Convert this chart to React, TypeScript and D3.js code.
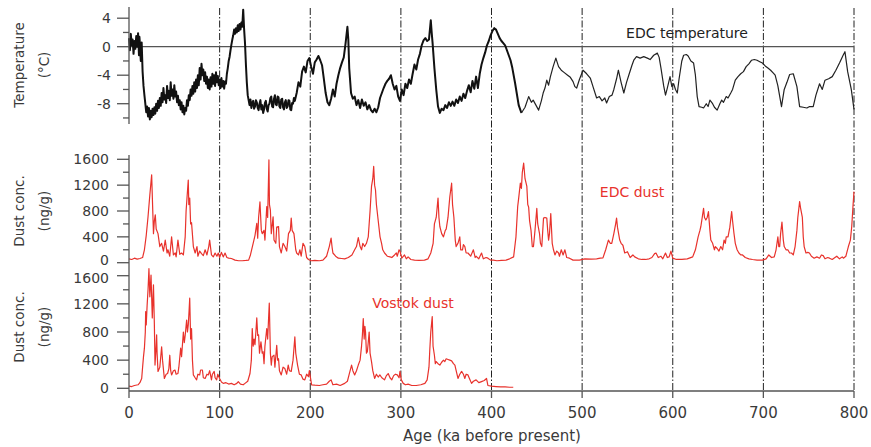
import React from "react";
import * as d3 from "d3";

// ---------- DATA ----------
const ageTicks = [0, 100, 200, 300, 400, 500, 600, 700, 800];
const tempTicks = [4, 0, -4, -8];
const tempMinorTicks = [2, -2, -6, -10];
const dustTicks = [0, 400, 800, 1200, 1600];
const dustMinorTicks = [200, 600, 1000, 1400];

// EDC temperature anomaly [age ka, °C]
const edcTemperature: [number, number][] = [
  [0, 1.2], [1, -0.5], [2, 1.8], [3, 0.2], [4, 1.0], [5, -1.0], [6, 0.8], [7, -0.3], [8, 1.5], [9, 0.0],
  [10, 1.9], [11, -1.2], [11.5, 1.4], [12, 0.5], [13, -2.0], [14, 0.6], [15, -3.5], [16, -5.5], [17, -6.8], [18, -8.0],
  [19, -9.2], [20, -8.4], [21, -9.8], [22, -8.6], [23, -10.2], [24, -9.0], [25, -9.9], [26, -8.7], [27, -9.6], [28, -8.5],
  [29, -9.4], [30, -8.0], [31, -9.0], [32, -7.6], [33, -8.6], [34, -7.2], [35, -8.3], [36, -6.5], [37, -7.8], [38, -5.8],
  [39, -7.4], [40, -6.8], [41, -7.9], [42, -5.5], [43, -7.2], [44, -6.2], [45, -7.5], [46, -5.0], [47, -6.9], [48, -6.0],
  [49, -7.3], [50, -5.4], [51, -7.0], [52, -6.3], [53, -7.8], [54, -6.9], [55, -8.2], [56, -7.5], [57, -8.8], [58, -7.8],
  [59, -9.2], [60, -8.3], [61, -9.5], [62, -8.6], [63, -9.0], [64, -7.5], [65, -8.3], [66, -6.8], [67, -7.5], [68, -6.0],
  [69, -6.9], [70, -5.5], [71, -6.6], [72, -5.0], [73, -6.3], [74, -4.6], [75, -5.8], [76, -4.0], [77, -5.4], [78, -3.0],
  [79, -4.6], [80, -2.4], [81, -4.0], [82, -3.2], [83, -4.8], [84, -3.6], [85, -5.2], [86, -4.2], [87, -5.8], [88, -4.6],
  [89, -6.0], [90, -4.3], [91, -5.6], [92, -3.8], [93, -5.2], [94, -4.0], [95, -5.5], [96, -3.6], [97, -5.0], [98, -4.1],
  [99, -5.4], [100, -4.6], [101, -5.8], [102, -4.4], [103, -5.6], [104, -4.8], [105, -5.9], [106, -4.9], [107, -5.2], [108, -3.8],
  [109, -3.0], [110, -2.0], [111, -1.4], [112, -0.5], [113, 0.3], [114, 1.0], [115, 1.6], [116, 2.4], [117, 1.8], [118, 2.6],
  [119, 2.0], [120, 3.0], [121, 2.2], [122, 3.2], [123, 2.4], [124, 3.4], [125, 2.8], [126, 5.2], [127, 2.5], [128, 0.5],
  [129, -2.5], [130, -5.0], [131, -6.8], [132, -7.5], [133, -8.2], [134, -7.4],
  [135, -8.6], [136, -7.9], [137, -7.6], [138, -8.7], [139, -8.4], [140, -7.5], [141, -7.8], [142, -8.6], [143, -8.9], [144, -8.0],
  [145, -7.5], [146, -8.8], [147, -8.2], [148, -9.3], [149, -8.8], [150, -7.9], [151, -7.6], [152, -8.7], [153, -9.1], [154, -8.2],
  [155, -8.0], [156, -7.2], [157, -7.0], [158, -8.4], [159, -8.5], [160, -7.3], [161, -6.8], [162, -8.1], [163, -8.2], [164, -7.0],
  [165, -7.1], [166, -8.4], [167, -8.6], [168, -7.4], [169, -7.3], [170, -8.5], [171, -8.8], [172, -7.8], [173, -7.5], [174, -8.6],
  [175, -8.4], [176, -7.5], [177, -7.6], [178, -8.8], [179, -8.9], [180, -7.9], [181, -8.0], [182, -7.2], [183, -7.6], [185, -6.5],
  [187, -5.0], [189, -5.6], [191, -3.5], [193, -2.8], [195, -3.6], [197, -2.0], [199, -1.6], [201, -2.8], [203, -3.8], [205, -2.2],
  [207, -1.8], [209, -1.3], [211, -1.9], [213, -2.6], [215, -4.5], [217, -6.5], [219, -7.8], [221, -8.2], [223, -7.3], [225, -6.0],
  [227, -7.0], [229, -5.2], [231, -4.0], [233, -3.0], [235, -2.2], [237, -1.5], [239, 0.5], [241, 2.8], [242, 1.0], [243, -3.0],
  [245, -6.5], [247, -7.3], [249, -7.0], [251, -8.2], [253, -7.5], [255, -8.6], [257, -7.4], [259, -8.3], [261, -7.8], [263, -8.8],
  [265, -8.2], [267, -8.9], [269, -9.2], [271, -8.7], [273, -9.2], [275, -8.5], [277, -7.2], [279, -6.5], [281, -5.8], [283, -5.2],
  [285, -4.8], [287, -4.5], [289, -4.0], [291, -5.2], [293, -6.0], [295, -5.5], [297, -7.0], [299, -7.6], [301, -6.0], [303, -6.8],
  [305, -5.2], [307, -5.8], [309, -4.6], [311, -5.2], [313, -3.8], [315, -2.5], [317, -3.2], [319, -1.8], [321, -1.0], [323, 0.2],
  [325, 0.9], [327, 1.2], [329, 0.8], [331, 1.0], [333, 3.7], [334, 2.0], [335, 0.5], [337, -3.0], [339, -6.0], [341, -8.4],
  [343, -9.3], [345, -8.7], [347, -8.9], [349, -8.2], [351, -8.6], [353, -7.8], [355, -8.3], [357, -7.7], [359, -8.3], [361, -7.4],
  [363, -7.9], [365, -7.0], [367, -7.6], [369, -6.6], [371, -7.2], [373, -6.2], [375, -5.4], [377, -6.4], [379, -4.8], [381, -5.9],
  [383, -4.2], [385, -5.8], [387, -3.8], [389, -2.5], [391, -1.6], [393, -0.8], [395, 0.2], [397, 0.8], [399, 1.6], [401, 2.2],
  [403, 2.6], [405, 2.4], [407, 1.8], [409, 1.2], [411, 0.8], [413, 0.5], [415, 0.2], [417, -0.5], [419, -1.2], [421, -1.9],
  [423, -3.0], [426, -5.1], [430, -8.2], [433, -9.3],
  [437, -8.5], [441, -7.0], [444, -7.8], [446, -7.5], [449, -8.2], [452, -8.9], [455, -7.6], [457, -6.5], [459, -5.8], [461, -4.7],
  [463, -5.4], [465, -4.2], [468, -2.8], [471, -1.6], [474, -2.8], [477, -3.3], [480, -3.6], [484, -4.0], [487, -4.3], [490, -4.9],
  [492, -5.6], [494, -5.8], [497, -4.6], [501, -3.3], [505, -3.8], [509, -4.4], [512, -5.6], [516, -7.2], [519, -7.0], [522, -7.6],
  [525, -7.2], [527, -7.9], [530, -7.0], [533, -6.8], [535, -6.0], [538, -4.5], [540, -3.3], [543, -5.0], [546, -6.5], [549, -5.0],
  [552, -3.8], [555, -2.6], [557, -1.9], [560, -1.4], [564, -1.6], [568, -1.4], [572, -1.6], [575, -1.8], [579, -1.2], [583, -0.9],
  [585, -1.5], [587, -3.0], [590, -5.5], [592, -6.8], [594, -5.8], [597, -4.2], [599, -5.6], [601, -5.2], [603, -6.0], [605, -6.5],
  [607, -4.5], [610, -2.0], [612, -1.2], [615, -1.1], [617, -1.3], [620, -2.0], [623, -2.3], [625, -4.0], [627, -7.0], [629, -8.4],
  [632, -8.5], [634, -8.6], [637, -8.0], [639, -8.4], [641, -7.5], [644, -8.0], [646, -8.5], [649, -8.9], [652, -8.0], [654, -7.5],
  [656, -7.8], [659, -7.0], [661, -7.2], [664, -6.5], [666, -6.0], [669, -4.7], [672, -4.2], [675, -3.8], [678, -3.5], [681, -2.8],
  [684, -2.4], [687, -1.9], [690, -1.8], [693, -1.9], [696, -2.1], [699, -2.3], [702, -2.7], [705, -3.0], [708, -3.3], [711, -3.7],
  [713, -4.0], [716, -5.5], [720, -8.4], [723, -6.0], [726, -5.0], [729, -3.9], [733, -3.8], [737, -5.6], [740, -8.4], [744, -8.5],
  [748, -8.6], [751, -8.4], [755, -8.4], [758, -6.8], [762, -5.2], [765, -6.0], [768, -4.7], [772, -4.5], [776, -4.2], [780, -3.3],
  [784, -2.3], [788, -1.2], [790, -0.7], [793, -3.5], [797, -6.0], [800, -8.8],
];

// EDC dust concentration [age ka, ng/g]
const edcDust: [number, number][] = [
  [0, 60], [3, 50], [6, 70], [9, 55], [12, 65], [15, 80], [17, 200], [19, 420], [21, 710], [23, 1050],
  [25, 1360], [26, 900], [27, 450], [28, 650], [29, 740], [30, 520], [32, 450], [34, 250], [36, 300], [38, 180],
  [40, 350], [42, 150], [43, 200], [45, 100], [47, 400], [49, 120], [51, 150], [52, 90], [54, 350], [56, 130],
  [58, 150], [60, 120], [62, 400], [63, 800], [64, 1000], [65.4, 1280], [66, 900], [67, 1000], [68, 600], [69, 620],
  [71, 250], [73, 150], [75, 250], [76, 100], [78, 180], [80, 140], [82, 110], [84, 200], [86, 120], [88, 250],
  [89, 350], [91, 120], [93, 90], [95, 150], [97, 100], [98.5, 150], [100, 80], [102, 160], [104, 90], [106, 150],
  [108, 80], [110, 70], [113, 65], [117, 40], [121, 30], [125, 30], [129, 35], [132, 40], [134, 120], [137, 300],
  [139, 420], [141, 610], [142, 380], [143, 700], [144.5, 940], [146, 500], [147, 450], [149, 500], [150, 350], [152, 870],
  [153, 700], [154.4, 1590], [155, 900], [156, 815], [157, 450], [159, 710], [160, 350], [162, 300], [163, 550], [165, 560],
  [166, 250], [168, 150], [170, 300], [172, 250], [174, 180], [176, 450], [178, 500], [179, 690], [180, 500], [182, 450],
  [184, 200], [185, 150], [187, 120], [188.6, 200], [190, 100], [192, 300], [194, 250], [196, 80], [198, 50], [201, 30],
  [205, 35], [210, 30], [214, 40], [218, 100], [221, 250], [223, 380], [224, 250], [225, 150], [228, 100], [231, 70],
  [234.6, 65], [238, 60], [242, 80], [246, 120], [249, 200], [251, 250], [253, 390], [255, 250], [256.6, 200], [258, 300],
  [260, 250], [262, 300], [264, 400], [266, 800], [267.6, 1180], [269, 1300], [270, 1490], [271, 1200], [272, 1125], [273, 900],
  [275, 650], [277, 400], [278.7, 300], [280, 200], [282, 150], [285, 100], [288, 90], [290, 80], [293, 120], [295, 150],
  [296, 100], [298, 200], [299, 180], [301, 70], [304, 120], [306, 60], [308, 90], [311, 50], [315, 40], [320, 35],
  [326, 40], [330, 60], [333, 150], [335.6, 300], [337, 600], [339, 700], [341, 1000], [342, 700], [343, 560], [345, 450],
  [347, 400], [349, 500], [350, 520], [352, 700], [354, 1020], [356, 1230], [357, 900], [358.5, 700], [360, 350], [361, 250],
  [363, 300], [365, 400], [366, 200], [368, 200], [369, 280], [370.6, 250], [372, 150], [374, 150], [377, 100], [380, 200],
  [382, 80], [383, 100], [386, 60], [389, 150], [391, 60], [394, 80], [396, 70], [399, 40], [402, 40], [406, 30],
  [411, 35], [416, 40], [420, 60], [424.4, 90], [427, 400], [428.9, 870], [430, 1000], [431.8, 1230], [433, 1150], [434, 1400],
  [435.5, 1540], [437, 1300], [439, 1180], [440, 900], [441, 860], [442, 650], [443.6, 500], [445, 250], [446.3, 250], [448, 500],
  [450, 840], [451, 600], [453, 450], [454, 300], [455.5, 250], [457.4, 690], [459, 700], [461, 690], [462, 500], [463, 350],
  [464, 450], [465.4, 760], [467, 300], [468.4, 200], [470, 120], [472, 180], [474, 150], [475, 100], [477, 200], [479, 120],
  [481, 200], [483, 80], [486, 70], [490, 40], [497, 40], [503, 60], [510, 55], [516, 60], [520, 70], [523, 75],
  [526, 200], [529, 350], [531, 300], [532.7, 300], [535, 450], [537, 600], [538, 690], [539, 550], [541.5, 350], [543, 300],
  [545, 270], [547, 150], [550, 170], [553, 80], [556, 120], [558, 90], [562, 60], [566, 50], [570, 50], [574, 60],
  [577, 80], [580, 140], [581.5, 150], [584, 80], [587, 100], [589, 60], [592, 150], [594, 80], [596, 90], [598, 180],
  [600, 70], [604, 50], [610, 50], [616, 60], [622, 90], [625, 200], [628, 400], [630, 500], [631, 560], [632, 650],
  [634, 840], [635, 700], [636.5, 660], [638, 700], [639.4, 790], [641, 500], [642, 350], [644, 300], [646, 200], [647, 250],
  [649, 220], [651, 180], [653, 250], [655, 200], [656.6, 350], [658, 300], [659, 400], [661, 400], [663, 550], [665, 790],
  [666, 650], [667.5, 460], [669, 300], [671, 200], [673, 150], [675, 120], [677, 120], [680, 80], [684, 60], [688, 50],
  [693, 40], [699, 40], [703, 60], [706, 120], [709, 80], [712, 90], [714, 200], [716, 400], [717, 250], [718, 250],
  [719, 450], [720.5, 630], [722, 350], [723, 250], [725, 200], [727, 200], [729, 150], [731, 150], [733, 120], [735, 250],
  [737, 500], [738, 700], [740, 945], [741, 850], [743, 700], [744, 400], [745, 250], [747, 150], [749, 160], [750.8, 150],
  [753, 100], [756, 70], [759, 90], [762, 70], [764, 120], [766, 110], [768, 60], [771, 80], [773, 70], [776, 50],
  [779, 80], [781, 100], [784, 60], [787, 90], [788.3, 70], [791, 100], [793.8, 250], [796, 350], [797.5, 560], [799, 900],
  [800, 1100],
];

// Vostok dust concentration [age ka, ng/g]
const vostokDust: [number, number][] = [
  [0, 30], [3, 25], [6, 40], [10, 50], [12, 80], [14, 140], [15, 300], [16, 450], [17, 570], [18, 800],
  [18.4, 1090], [19, 900], [20, 1180], [21, 1400], [22, 1700], [23, 1300], [24.3, 1610], [25, 1300], [25.7, 1000], [26.5, 1300],
  [27, 1470], [28, 900], [28.7, 330], [29.5, 500], [30.5, 760], [31, 500], [32, 240], [34, 300], [36, 590], [37, 400],
  [39, 140], [41, 200], [42.6, 210], [44, 280], [45, 470], [46, 250], [47, 190], [49, 250], [50.7, 260], [52, 200],
  [54, 210], [55, 300], [57, 570], [58, 450], [60, 800], [61, 650], [62, 750], [63.6, 970], [64.5, 800], [65.4, 900],
  [66.3, 1100], [67, 1280], [68, 700], [69, 850], [70, 400], [71, 190], [73, 150], [74.6, 120], [76, 200], [78, 190],
  [79, 260], [81, 260], [82, 150], [84, 140], [86, 200], [87.5, 190], [89, 250], [91, 120], [92, 200], [94, 240],
  [95, 150], [96.7, 120], [98, 200], [100, 140], [102, 90], [104, 70], [107, 80], [110, 60], [113, 70], [116, 50],
  [119, 70], [120.6, 95], [123, 60], [126, 50], [128, 70], [131, 100], [133.5, 210], [135, 400], [136, 850], [137, 600],
  [138, 700], [139, 620], [140, 800], [141, 1000], [142, 750], [143, 760], [144, 500], [145.6, 660], [147, 500], [148, 520],
  [149, 350], [150, 600], [152, 850], [153, 700], [154.8, 1210], [155.5, 800], [156, 500], [157, 330], [158, 450], [160, 470],
  [161, 300], [163, 610], [164, 400], [165, 420], [166, 250], [168, 190], [170, 300], [172, 280], [174, 200], [175.7, 330],
  [177, 250], [179, 240], [181, 400], [183, 730], [184, 500], [186, 330], [188, 200], [190, 190], [192, 130], [194, 120],
  [196, 200], [198, 165], [199, 250], [201.5, 50], [205, 45], [210, 40], [214, 50], [218, 60], [221, 100], [223, 120],
  [225, 50], [229, 60], [233, 40], [238, 70], [241, 100], [243, 200], [245.6, 330], [247, 250], [249, 190], [251, 250],
  [253, 330], [255, 400], [256.6, 600], [257.5, 750], [258.5, 990], [259.5, 700], [260.3, 880], [261, 800], [262, 500], [263, 520],
  [264, 650], [265, 800], [266, 500], [267.6, 380], [269, 250], [271, 140], [273, 200], [275, 160], [276.8, 190], [279, 150],
  [282, 120], [284, 180], [286, 210], [288, 150], [290, 120], [292, 180], [294, 200], [296, 190], [298, 150], [299, 240],
  [300.5, 120], [302.6, 70], [305, 50], [308, 60], [312, 40], [317, 40], [322, 50], [326.5, 70], [329, 120], [331, 300],
  [332, 570], [333, 800], [334.6, 1020], [335.5, 600], [337, 470], [338, 350], [339, 380], [341, 350], [343, 330], [345, 370],
  [347, 400], [348.5, 380], [350, 420], [352, 410], [354, 400], [356, 390], [358, 350], [359.6, 330], [361, 250], [363, 140],
  [365, 200], [367, 240], [369, 200], [370.6, 140], [372, 200], [374, 190], [376, 130], [378, 70], [380, 100], [383, 120],
  [386, 80], [389, 95], [392, 110], [394.5, 140], [396, 40], [400, 30], [405, 25], [410, 20], [415, 20], [420, 15],
  [424, 15],
];

// ---------- LAYOUT ----------
const W = 871;
const H = 447;
const X0 = 129;
const X1 = 854;
const AXIS_Y = 391;
const DENSE_END = 433; // high-resolution section of the temperature record

export default function App() {
  const x = d3.scaleLinear().domain([0, 800]).range([X0, X1]);
  const yT = d3.scaleLinear().domain([0, 4]).range([46.7, 18.2]);
  const yD = d3.scaleLinear().domain([0, 1600]).range([262.7, 159.3]);
  const yV = d3.scaleLinear().domain([0, 1600]).range([388.3, 275.7]);

  const lineT = d3.line<[number, number]>().x((d) => x(d[0])).y((d) => yT(d[1]));
  const lineD = d3.line<[number, number]>().x((d) => x(d[0])).y((d) => yD(d[1]));
  const lineV = d3.line<[number, number]>().x((d) => x(d[0])).y((d) => yV(d[1]));

  const tempDense = edcTemperature.filter((d) => d[0] <= DENSE_END);
  const tempSparse = edcTemperature.filter((d) => d[0] >= DENSE_END);

  const axisColor = "#555";
  const textColor = "#3a3a3a";
  const red = "#e8322c";
  const font = "'DejaVu Sans', Verdana, sans-serif";

  const yAxis = (
    scale: d3.ScaleLinear<number, number>,
    major: number[],
    minor: number[],
    top: number,
    bottom: number,
    labelX: number,
    fmt: (v: number) => string,
    nudge: (v: number) => number
  ) => (
    <g>
      <line x1={X0} x2={X0} y1={top} y2={bottom} stroke={axisColor} strokeWidth={1.3} />
      {major.map((v) => (
        <g key={"M" + v}>
          <line x1={X0 - 12} x2={X0} y1={scale(v)} y2={scale(v)} stroke={axisColor} strokeWidth={1.3} />
          <text
            x={labelX}
            y={scale(v) + nudge(v)}
            dy="0.36em"
            textAnchor="end"
            fontSize={14}
            fill={textColor}
            fontFamily={font}
          >
            {fmt(v)}
          </text>
        </g>
      ))}
      {minor.map((v) => (
        <line key={"m" + v} x1={X0 - 6} x2={X0} y1={scale(v)} y2={scale(v)} stroke={axisColor} strokeWidth={1.3} />
      ))}
    </g>
  );

  const yTitle = (lines: string[], cy: number) => (
    <g>
      {lines.map((t, i) => (
        <text
          key={t}
          transform={`translate(${19 + i * 25},${cy}) rotate(-90)`}
          textAnchor="middle"
          dy="0.36em"
          fontSize={13.5}
          fill={textColor}
          fontFamily={font}
        >
          {t}
        </text>
      ))}
    </g>
  );

  return (
    <svg width={W} height={H} style={{ position: "absolute", left: 0, top: 0, background: "#fff" }}>
      <rect width={W} height={H} fill="#fff" />
      {/* vertical dash-dot guides */}
      {ageTicks.filter((a) => a > 0).map((a) => (
        <line key={"g" + a} x1={x(a)} x2={x(a)} y1={8} y2={AXIS_Y} stroke="#222" strokeWidth={1} strokeDasharray="7,2,1.5,2" />
      ))}
      {/* zero line temperature */}
      <line x1={X0} x2={X1} y1={yT(0)} y2={yT(0)} stroke="#555" strokeWidth={1.3} />

      {/* series */}
      <path d={lineT(tempDense) || ""} fill="none" stroke="#111" strokeWidth={2} strokeLinejoin="round" />
      <path d={lineT(tempSparse) || ""} fill="none" stroke="#222" strokeWidth={1.2} strokeLinejoin="round" />
      <path d={lineD(edcDust) || ""} fill="none" stroke={red} strokeWidth={1.2} strokeLinejoin="round" />
      <path d={lineV(vostokDust) || ""} fill="none" stroke={red} strokeWidth={1.2} strokeLinejoin="round" />

      {/* y axes */}
      {yAxis(yT, tempTicks, tempMinorTicks, 7, 124, 111, (v) => (v < 0 ? "-" + Math.abs(v) : String(v)), () => 0)}
      {yAxis(yD, dustTicks, dustMinorTicks, 155, 268, 109, (v) => String(v), (v) => (v === 0 ? -2.5 : 0))}
      {yAxis(yV, dustTicks, dustMinorTicks, 268, AXIS_Y, 109, (v) => String(v), (v) => (v === 1600 ? 2 : 0))}

      {/* x axis */}
      <line x1={X0} x2={X1} y1={AXIS_Y} y2={AXIS_Y} stroke={axisColor} strokeWidth={1.3} />
      {ageTicks.map((a) => (
        <g key={"x" + a}>
          <line x1={x(a)} x2={x(a)} y1={AXIS_Y} y2={AXIS_Y + 7} stroke={axisColor} strokeWidth={1.3} />
          <text x={x(a)} y={413} dy="0.36em" textAnchor="middle" fontSize={15} fill={textColor} fontFamily={font}>
            {a}
          </text>
        </g>
      ))}
      <text x={492} y={436} dy="0.36em" textAnchor="middle" fontSize={15} fill={textColor} fontFamily={font}>
        Age (ka before present)
      </text>

      {/* y titles */}
      {yTitle(["Temperature", "(°C)"], 65)}
      {yTitle(["Dust conc.", "(ng/g)"], 211)}
      {yTitle(["Dust conc.", "(ng/g)"], 327)}

      {/* series labels */}
      <text x={687} y={33} dy="0.36em" textAnchor="middle" fontSize={14} fill="#222" fontFamily={font}>
        EDC temperature
      </text>
      <text x={632} y={192} dy="0.36em" textAnchor="middle" fontSize={14} fill={red} fontFamily={font}>
        EDC dust
      </text>
      <text x={413} y={303} dy="0.36em" textAnchor="middle" fontSize={14} fill={red} fontFamily={font}>
        Vostok dust
      </text>
    </svg>
  );
}
